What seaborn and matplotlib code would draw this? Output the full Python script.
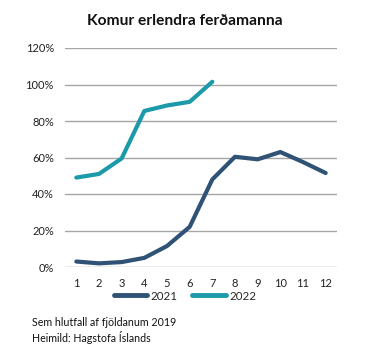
import pandas as pd
import matplotlib
matplotlib.use("Agg")
import matplotlib.pyplot as plt
import seaborn as sns
from matplotlib.ticker import FuncFormatter

months = list(range(1, 13))
arrivals_2021 = [3, 2, 2.7, 5, 11.5, 22, 48, 60.4, 59, 63, 57.5, 51.5]
months_2022 = [1, 2, 3, 4, 5, 6, 7]
arrivals_2022 = [49, 51, 59.5, 85.5, 88.5, 90.5, 101.5]

df = pd.concat([
    pd.DataFrame({"month": months, "value": arrivals_2021, "year": "2021"}),
    pd.DataFrame({"month": months_2022, "value": arrivals_2022, "year": "2022"}),
])

sns.set_theme(style="white")
plt.rcParams['font.family'] = ['Lato', 'DejaVu Sans']

fig = plt.figure(figsize=(3.72, 3.61), dpi=100)
ax = fig.add_axes([65 / 372, 1 - 267 / 361, 272 / 372, 219 / 361])

palette = {"2021": "#2F5275", "2022": "#1C9AAA"}
sns.lineplot(data=df, x="month", y="value", hue="year", palette=palette,
             linewidth=3, ax=ax, legend=False)

ax.set_ylim(0, 120)
ax.set_xlim(0.5, 12.5)
ax.set_yticks(range(0, 121, 20))
ax.yaxis.set_major_formatter(FuncFormatter(lambda v, p: f"{int(v)}%"))
ax.set_xticks(months)
ax.grid(axis="y", color="#A6A6A6", linewidth=1)
ax.set_axisbelow(True)
for s in ax.spines.values():
    s.set_visible(False)
ax.tick_params(axis="both", length=0, labelsize=8, colors="#222222")
ax.tick_params(axis="x", pad=8)
ax.tick_params(axis="y", pad=8)
ax.set_xlabel("")
ax.set_ylabel("")

fig.text(185 / 372, 1 - 21 / 361, "Komur erlendra ferðamanna", ha="center",
         va="center", fontsize=11.2, fontweight="bold", color="#111111")

handles = [plt.Line2D([], [], color=palette[y], linewidth=3.5) for y in ["2021", "2022"]]
fig.legend(handles, ["2021", "2022"], loc="center", bbox_to_anchor=(185 / 372, 1 - 296 / 361),
           ncol=2, frameon=False, fontsize=8.3, handlelength=2.9, handletextpad=0.3,
           columnspacing=1.3)

fig.text(32 / 372, 1 - 322 / 361, "Sem hlutfall af fjöldanum 2019", fontsize=7.7,
         va="center", color="#111111")
fig.text(32 / 372, 1 - 337 / 361, "Heimild: Hagstofa Íslands", fontsize=7.7,
         va="center", color="#111111")

fig.savefig("out.png", dpi=100)
